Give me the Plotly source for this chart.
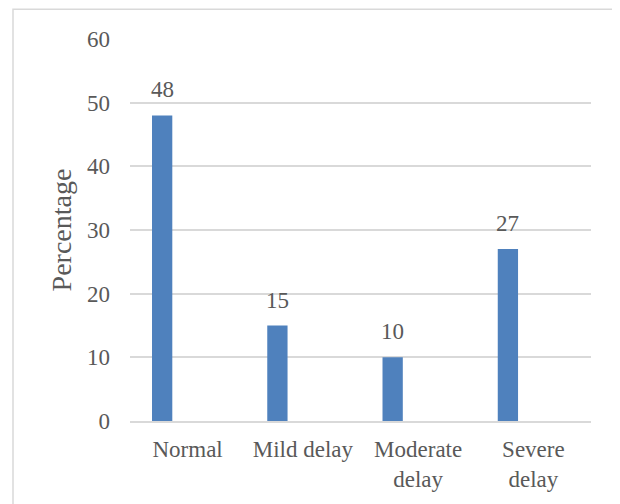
import plotly.graph_objects as go

categories = ["Normal", "Mild delay", "Moderate<br>delay", "Severe<br>delay"]
values = [48, 15, 10, 27]
y_ticks = [0, 10, 20, 30, 40, 50, 60]

FONT = "Liberation Serif, Times New Roman, serif"
GRAY = "#595959"
FS = 23

# page body has an 8px margin; plot area target: x 130-591, y 39-423 in the window
L, T = 122, 31
PW, PH = 461, 384
W, H = 612, 496

fig = go.Figure()
fig.add_trace(go.Bar(
    x=categories, y=values,
    marker=dict(color="#4F81BD", line=dict(width=0)),
    width=0.176, offset=-0.309,
    hoverinfo="x+y",
))

for c, v in zip(categories, values):
    fig.add_annotation(x=c, y=v, text=str(v), showarrow=False,
                       xshift=-25.6, yshift=11, yanchor="bottom",
                       font=dict(family=FONT, size=FS, color=GRAY))

fig.update_layout(
    width=W, height=H,
    margin=dict(l=L, r=W - L - PW, t=T, b=H - T - PH),
    paper_bgcolor="white", plot_bgcolor="white",
    showlegend=False,
    font=dict(family=FONT, size=FS, color=GRAY),
    xaxis=dict(showgrid=False, showline=True, linecolor="#d9d9d9", linewidth=1.5,
               ticks="", tickfont=dict(family=FONT, size=FS, color=GRAY),
               ticklabelstandoff=7),
    yaxis=dict(range=[0, 60], tickvals=y_ticks, showgrid=True, gridcolor="#d9d9d9",
               gridwidth=1.5, zeroline=False, showline=False, ticks="",
               tickfont=dict(family=FONT, size=FS, color=GRAY),
               ticklabelstandoff=19,
               title=dict(text="Percentage", font=dict(family=FONT, size=28, color=GRAY),
                          standoff=7)),
    shapes=[dict(type="rect", xref="paper", yref="paper",
                 x0=-(L - 5) / PW, x1=(W - 1 - L) / PW,
                 y0=-(H + 10 - T - PH) / PH, y1=(PH + T - 1) / PH,
                 line=dict(color="#d9d9d9", width=1.5), fillcolor="rgba(0,0,0,0)")],
)

fig.write_html("out.html")
